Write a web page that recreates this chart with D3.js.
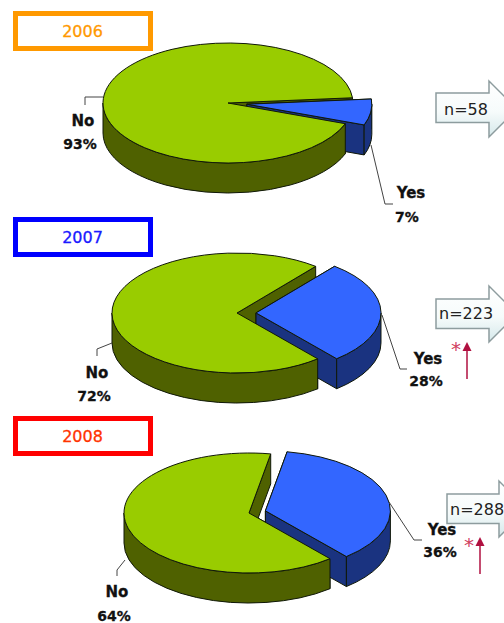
<!DOCTYPE html>
<html>
<head>
<meta charset="utf-8">
<script src="https://cdn.jsdelivr.net/npm/d3@7"></script>
<style>
body { margin: 0; background: #fff; overflow: hidden; }
text { font-family: "DejaVu Sans", sans-serif; }
</style>
</head>
<body>
<script>
const categories = ["Yes", "No"];
const years = ["2006", "2007", "2008"];
const yesValues = [7, 28, 36];
const noValues = [93, 72, 64];
const sampleSizes = [58, 223, 288];
const yearColors = ["#ff9900", "#0000ff", "#ff0000"];
const yearTextColors = ["#ff9900", "#1a1aff", "#ff3300"];
const significant = [false, true, true];

const layout = [
    {box: [15.5, 13.5], cx: 228, cy: 103, start: 85, explode: 19,
     noLead: [[103, 97], [85, 97], [85, 105]], yesLead: [[371, 145], [385, 204], [393, 204]],
     noLabel: [83, 126, 80, 149], yesLabel: [411, 198, 407, 222],
     arrow: [436, 93, 489, 81], textX: 444, textY: 115},
    {box: [15.5, 219.5], cx: 237, cy: 313, start: 39, explode: 19,
     noLead: [[112, 343], [97, 349], [97, 356]], yesLead: [[382, 315], [400, 369], [407, 369]],
     noLabel: [97, 378, 94, 401], yesLabel: [428, 364, 426, 386],
     arrow: [436, 299, 489, 286], textX: 439, textY: 319, up: [467, 379, 342], star: [456, 356]},
    {box: [15.5, 418.5], cx: 249, cy: 513, start: 10, explode: 17,
     noLead: [[125, 560], [117, 570], [117, 576]], yesLead: [[389, 502], [414, 540], [422, 540]],
     noLabel: [117, 597, 114, 621], yesLabel: [442, 535, 440, 557],
     arrow: [447, 494, 499, 481], textX: 450, textY: 515, up: [480, 574, 537], star: [469, 552]}
];

const rx = 125, ry = 60, depth = 30;
const k = ry / rx;
const topColor = {Yes: "#3366ff", No: "#99cc00"};
const sideColor = {Yes: "#1a3380", No: "#4f6100"};

const svg = d3.select("body").append("svg")
    .attr("width", 504)
    .attr("height", 623);

const defs = svg.append("defs");
const grad = defs.append("linearGradient")
    .attr("id", "arrowFill")
    .attr("x1", 0).attr("y1", 0).attr("x2", 0).attr("y2", 1);
grad.append("stop").attr("offset", "0%").attr("stop-color", "#ffffff");
grad.append("stop").attr("offset", "55%").attr("stop-color", "#f6fbfb");
grad.append("stop").attr("offset", "100%").attr("stop-color", "#d5e8ea");

const arcTop = d3.arc().innerRadius(0).outerRadius(rx);

// all side shapes are drawn in the unscaled circle space, the group squashes them
function rimPath(a0, a1) {
    let p = d3.path();
    let h = depth / k;
    p.arc(0, 0, rx, a0 - Math.PI / 2, a1 - Math.PI / 2, false);
    p.arc(0, h, rx, a1 - Math.PI / 2, a0 - Math.PI / 2, true);
    p.closePath();
    return p.toString();
}

function wallPath(a) {
    let p = d3.path();
    let h = depth / k;
    let x = rx * Math.sin(a), y = -rx * Math.cos(a);
    p.moveTo(0, 0);
    p.lineTo(x, y);
    p.lineTo(x, y + h);
    p.lineTo(0, h);
    p.closePath();
    return p.toString();
}

function frontRanges(d) {
    let out = [];
    for (let turn of [0, 2 * Math.PI]) {
        let lo = Math.max(d.startAngle, Math.PI / 2 + turn);
        let hi = Math.min(d.endAngle, 3 * Math.PI / 2 + turn);
        if (hi > lo) out.push([lo, hi]);
    }
    return out;
}

function sliceGroup(parent, d, l) {
    let mid = (d.startAngle + d.endAngle) / 2;
    let off = d.data.name === "Yes" ? l.explode : 0;
    let dx = off * Math.sin(mid), dy = -off * k * Math.cos(mid);
    return parent.append("g")
        .attr("transform", `translate(${l.cx + dx},${l.cy + dy}) scale(1,${k})`);
}

function styled(sel, fill) {
    return sel.attr("fill", fill)
        .attr("stroke", "#101808")
        .attr("stroke-width", 1)
        .attr("stroke-linejoin", "round")
        .attr("vector-effect", "non-scaling-stroke");
}

years.forEach((year, i) => {
    let l = layout[i];
    let g = svg.append("g");

    // year box
    g.append("rect")
        .attr("x", l.box[0]).attr("y", l.box[1])
        .attr("width", 135).attr("height", 35)
        .attr("fill", "#fff")
        .attr("stroke", yearColors[i])
        .attr("stroke-width", 5);
    g.append("text")
        .attr("x", 82.5).attr("y", l.box[1] + 23.5)
        .attr("text-anchor", "middle")
        .attr("font-size", 16)
        .attr("fill", yearTextColors[i])
        .attr("stroke", yearTextColors[i])
        .attr("stroke-width", 0.3)
        .text(year);

    // pie
    let values = [yesValues[i], noValues[i]];
    let a = l.start * Math.PI / 180;
    let pie = d3.pie().sort(null).startAngle(a).endAngle(a + 2 * Math.PI);
    let slices = pie(values)
        .map((d, j) => Object.assign(d, {data: {name: categories[j], value: d.value}}));
    let yes = slices[0], no = slices[1];

    // back to front: green's cut walls, blue sides, green rim and top, blue top
    let noBack = sliceGroup(g, no, l);
    styled(noBack.append("path").attr("d", wallPath(no.startAngle)), sideColor.No);
    styled(noBack.append("path").attr("d", wallPath(no.endAngle)), sideColor.No);

    let yesSide = sliceGroup(g, yes, l);
    styled(yesSide.append("path").attr("d", wallPath(yes.startAngle)), sideColor.Yes);
    styled(yesSide.append("path").attr("d", wallPath(yes.endAngle)), sideColor.Yes);
    frontRanges(yes).forEach(r => {
        styled(yesSide.append("path").attr("d", rimPath(r[0], r[1])), sideColor.Yes);
    });

    let noFront = sliceGroup(g, no, l);
    frontRanges(no).forEach(r => {
        styled(noFront.append("path").attr("d", rimPath(r[0], r[1])), sideColor.No);
    });
    styled(noFront.append("path").attr("d", arcTop(no)), topColor.No);

    let yesTop = sliceGroup(g, yes, l);
    styled(yesTop.append("path").attr("d", arcTop(yes)), topColor.Yes);

    // leader lines
    let line = d3.line();
    [l.noLead, l.yesLead].forEach(pts => {
        g.append("path")
            .attr("d", line(pts))
            .attr("fill", "none")
            .attr("stroke", "#444")
            .attr("stroke-width", 1);
    });

    // slice labels
    let label = (x, y, txt, size) => g.append("text")
        .attr("x", x).attr("y", y)
        .attr("text-anchor", "middle")
        .attr("font-size", size)
        .attr("font-weight", "bold")
        .attr("fill", "#111")
        .attr("stroke", "#111")
        .attr("stroke-width", 0.3)
        .text(txt);
    label(l.noLabel[0], l.noLabel[1], categories[1], 15);
    label(l.noLabel[2], l.noLabel[3], noValues[i] + "%", 14);
    label(l.yesLabel[0], l.yesLabel[1], categories[0], 15);
    label(l.yesLabel[2], l.yesLabel[3], yesValues[i] + "%", 14);

    // n= arrow, runs off the right edge of the page
    let [ax, ay, hx, hy] = l.arrow;
    let shaftBottom = ay + 29.5;
    let headBottom = hy + 56;
    let tip = hx + 28;
    g.append("path")
        .attr("d", line([[ax, ay], [hx, ay], [hx, hy], [tip, (hy + headBottom) / 2],
                         [hx, headBottom], [hx, shaftBottom], [ax, shaftBottom]]) + "Z")
        .attr("fill", "url(#arrowFill)")
        .attr("stroke", "#8d9c9e")
        .attr("stroke-width", 1.5);
    g.append("text")
        .attr("x", l.textX).attr("y", l.textY)
        .attr("font-size", 16)
        .attr("fill", "#222")
        .text("n=" + sampleSizes[i]);

    // significance marker
    if (significant[i]) {
        let [ux, uy0, uy1] = l.up;
        g.append("line")
            .attr("x1", ux).attr("x2", ux)
            .attr("y1", uy0).attr("y2", uy1 + 6)
            .attr("stroke", "#b01040")
            .attr("stroke-width", 1.5);
        g.append("path")
            .attr("d", line([[ux, uy1], [ux + 4.5, uy1 + 9], [ux - 4.5, uy1 + 9]]) + "Z")
            .attr("fill", "#b01040");
        g.append("text")
            .attr("x", l.star[0]).attr("y", l.star[1])
            .attr("text-anchor", "middle")
            .attr("font-size", 20)
            .attr("fill", "#d04060")
            .text("*");
    }
});
</script>
</body>
</html>
